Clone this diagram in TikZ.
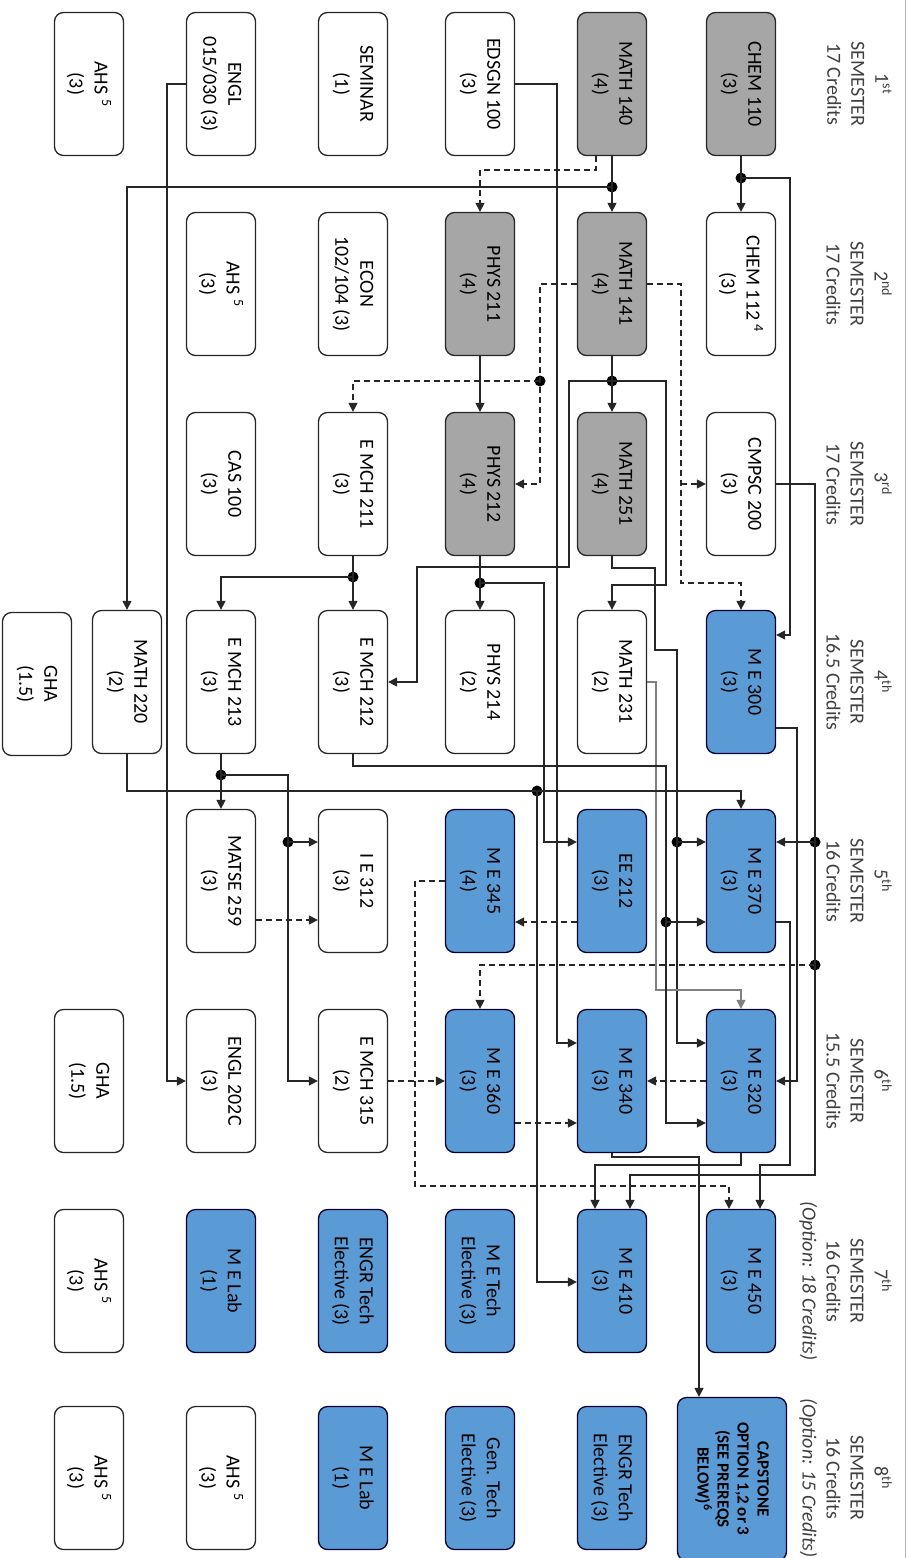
\documentclass[tikz,border=0pt]{standalone}
\usepackage{fontspec}
\setmainfont{Carlito}
\usetikzlibrary{arrows.meta}
\definecolor{mebl}{HTML}{5B9BD5}
\definecolor{crsg}{HTML}{A6A6A6}
\definecolor{hdr}{HTML}{404040}
\begin{document}
\begin{tikzpicture}[x=1pt,y=-1pt,
 crs/.style={draw=black!85, line width=1.3pt, rounded corners=9pt, minimum width=69pt, minimum height=143pt, inner sep=0pt, fill=white},
 gcrs/.style={crs, fill=crsg},
 bcrs/.style={crs, fill=mebl, draw=black!80!blue},
 txt/.style={rotate=-90, align=center, font=\fontsize{20}{25}\selectfont, inner sep=0pt},
 hd/.style={rotate=-90, anchor=north, align=center, text=hdr, font=\fontsize{20}{24}\selectfont, inner sep=0pt},
 ln/.style={draw=black!85, line width=1.4pt},
 arr/.style={ln, -{Triangle[length=9pt,width=9pt]}},
 darr/.style={arr, dash pattern=on 6pt off 4pt},
 dot/.style={circle, fill=black, inner sep=0pt, minimum size=11pt}]
\useasboundingbox (0,0) rectangle (909,1558);
\draw[gray!60, line width=1pt] (905,0) -- (905,1558);
\node[hd] (sem1) at (892,84) {1\textsuperscript{st}\\SEMESTER\\17 Credits};
\node[hd] (sem2) at (892,284) {2\textsuperscript{nd}\\SEMESTER\\17 Credits};
\node[hd] (sem3) at (892,484) {3\textsuperscript{rd}\\SEMESTER\\17 Credits};
\node[hd] (sem4) at (892,682) {4\textsuperscript{th}\\SEMESTER\\16.5 Credits};
\node[hd] (sem5) at (892,881) {5\textsuperscript{th}\\SEMESTER\\16 Credits};
\node[hd] (sem6) at (892,1081) {6\textsuperscript{th}\\SEMESTER\\15.5 Credits};
\node[hd] (sem7) at (892,1281) {7\textsuperscript{th}\\SEMESTER\\16 Credits\\\textit{(Option: 18 Credits)}};
\node[hd] (sem8) at (892,1478) {8\textsuperscript{th}\\SEMESTER\\16 Credits\\\textit{(Option: 15 Credits)}};
\node[gcrs, label={[txt]center:{CHEM 110\\(3)}}] (chem110) at (741,84) {};
\node[gcrs, label={[txt]center:{MATH 140\\(4)}}] (math140) at (612,84) {};
\node[crs, label={[txt]center:{EDSGN 100\\(3)}}] (edsgn100) at (480,84) {};
\node[crs, label={[txt]center:{SEMINAR\\(1)}}] (seminar) at (353,84) {};
\node[crs, label={[txt]center:{ENGL\\015/030 (3)}}] (engl015) at (221,84) {};
\node[crs, label={[txt]center:{AHS \textsuperscript{5}\\(3)}}] (ahs1) at (89,84) {};
\node[crs, label={[txt]center:{CHEM 112 \textsuperscript{4}\\(3)}}] (chem112) at (741,284) {};
\node[gcrs, label={[txt]center:{MATH 141\\(4)}}] (math141) at (612,284) {};
\node[gcrs, label={[txt]center:{PHYS 211\\(4)}}] (phys211) at (480,284) {};
\node[crs, label={[txt]center:{ECON\\102/104 (3)}}] (econ) at (353,284) {};
\node[crs, label={[txt]center:{AHS \textsuperscript{5}\\(3)}}] (ahs2) at (221,284) {};
\node[crs, label={[txt]center:{CMPSC 200\\(3)}}] (cmpsc200) at (741,484) {};
\node[gcrs, label={[txt]center:{MATH 251\\(4)}}] (math251) at (612,484) {};
\node[gcrs, label={[txt]center:{PHYS 212\\(4)}}] (phys212) at (480,484) {};
\node[crs, label={[txt]center:{E MCH 211\\(3)}}] (emch211) at (353,484) {};
\node[crs, label={[txt]center:{CAS 100\\(3)}}] (cas100) at (221,484) {};
\node[bcrs, label={[txt]center:{M E 300\\(3)}}] (me300) at (741,682) {};
\node[crs, label={[txt]center:{MATH 231\\(2)}}] (math231) at (612,682) {};
\node[crs, label={[txt]center:{PHYS 214\\(2)}}] (phys214) at (480,682) {};
\node[crs, label={[txt]center:{E MCH 212\\(3)}}] (emch212) at (353,682) {};
\node[crs, label={[txt]center:{E MCH 213\\(3)}}] (emch213) at (221,682) {};
\node[crs, label={[txt]center:{MATH 220\\(2)}}] (math220) at (127,682) {};
\node[crs, label={[txt]center:{GHA\\(1.5)}}] (gha1) at (37,684) {};
\node[bcrs, label={[txt]center:{M E 370\\(3)}}] (me370) at (741,881) {};
\node[bcrs, label={[txt]center:{EE 212\\(3)}}] (ee212) at (612,881) {};
\node[bcrs, label={[txt]center:{M E 345\\(4)}}] (me345) at (480,881) {};
\node[crs, label={[txt]center:{I E 312\\(3)}}] (ie312) at (353,881) {};
\node[crs, label={[txt]center:{MATSE 259\\(3)}}] (matse259) at (221,881) {};
\node[bcrs, label={[txt]center:{M E 320\\(3)}}] (me320) at (741,1081) {};
\node[bcrs, label={[txt]center:{M E 340\\(3)}}] (me340) at (612,1081) {};
\node[bcrs, label={[txt]center:{M E 360\\(3)}}] (me360) at (480,1081) {};
\node[crs, label={[txt]center:{E MCH 315\\(2)}}] (emch315) at (353,1081) {};
\node[crs, label={[txt]center:{ENGL 202C\\(3)}}] (engl202c) at (221,1081) {};
\node[crs, label={[txt]center:{GHA\\(1.5)}}] (gha2) at (89,1081) {};
\node[bcrs, label={[txt]center:{M E 450\\(3)}}] (me450) at (741,1281) {};
\node[bcrs, label={[txt]center:{M E 410\\(3)}}] (me410) at (612,1281) {};
\node[bcrs, label={[txt]center:{M E Tech\\Elective (3)}}] (metech) at (480,1281) {};
\node[bcrs, label={[txt]center:{ENGR Tech\\Elective (3)}}] (engrtech1) at (353,1281) {};
\node[bcrs, label={[txt]center:{M E Lab\\(1)}}] (melab1) at (221,1281) {};
\node[crs, label={[txt]center:{AHS \textsuperscript{5}\\(3)}}] (ahs3) at (89,1281) {};
\node[bcrs, minimum width=109pt, minimum height=163pt, label={[txt, font=\bfseries\fontsize{17}{20}\selectfont]center:{CAPSTONE\\OPTION 1,2 or 3\\(SEE PREREQS\\BELOW)\textsuperscript{6}}}] (capstone) at (732,1479) {};
\node[bcrs, label={[txt]center:{ENGR Tech\\Elective (3)}}] (engrtech2) at (612,1478) {};
\node[bcrs, label={[txt]center:{Gen. Tech\\Elective (3)}}] (gentech) at (480,1478) {};
\node[bcrs, label={[txt]center:{M E Lab\\(1)}}] (melab2) at (353,1478) {};
\node[crs, label={[txt]center:{AHS \textsuperscript{5}\\(3)}}] (ahs4) at (221,1478) {};
\node[crs, label={[txt]center:{AHS \textsuperscript{5}\\(3)}}] (ahs5) at (89,1478) {};
\node[dot] (j1) at (741,178) {};
\node[dot] (j2) at (612,187) {};
\node[dot] (j3) at (612,381) {};
\node[dot] (j4) at (540,381) {};
\node[dot] (j5) at (480,583) {};
\node[dot] (j6) at (677,842) {};
\node[dot] (j7) at (353,577) {};
\node[dot] (j8) at (666,922) {};
\node[dot] (j9) at (221,775) {};
\node[dot] (j10) at (288,842) {};
\node[dot] (j11) at (537,791) {};
\node[dot] (j12) at (815,842) {};
\node[dot] (j13) at (815,965) {};
\draw[arr] (chem110) -- (chem112);
\draw[arr] (j1.center) -- (790,178) -- (790,635) -- (me300.east |- 0,635);
\draw[arr] (math140) -- (math141);
\draw[arr] (j2.center) -| (math220.north);
\draw[darr] (math140.south -| 596,0) -- (596,170) -| (phys211.north);
\draw[arr] (edsgn100.east) -| (557,1043) -- (me340.west |- 0,1043);
\draw[arr] (engl015.west) -| (167,1081) -- (engl202c.west);
\draw[arr] (math141) -- (math251);
\draw[arr] (j3.center) -| (569,567) -| (417,682) -- (emch212.east);
\draw[arr] (j3.center) -| (666,585) -| (math231.north);
\draw[darr] (math141.west) -| (540,484) -- (phys212.east);
\draw[darr] (j4.center) -| (emch211.north);
\draw[darr] (math141.east) -| (681,583) -| (me300.north);
\draw[darr] (681,484) -- (cmpsc200.west);
\draw[arr] (phys211) -- (phys212);
\draw[arr] (phys212) -- (phys214);
\draw[arr] (j5.center) -| (544,842) -- (ee212.west |- 0,842);
\draw[arr] (math251.south) |- (655,568) |- (677,650) -- (677,1043) -- (me320.west |- 0,1043);
\draw[arr] (j6.center) -- (me370.west |- 0,842);
\draw[arr, draw=gray] (math231.east) -| (656,990) -| (me320.north);
\draw[arr] (emch211) -- (emch212);
\draw[arr] (j7.center) -| (emch213.north);
\draw[arr] (emch212.south) |- (666,766) -- (666,1123) -- (me320.west |- 0,1123);
\draw[arr] (j8.center) -- (me370.west |- 0,922);
\draw[arr] (emch213) -- (matse259);
\draw[arr] (j9.center) -| (288,1081) -- (emch315.west);
\draw[arr] (j10.center) -- (ie312.west |- 0,842);
\draw[darr] (matse259.east |- 0,920) -- (ie312.west |- 0,920);
\draw[arr] (math220.south) |- (741,791) -- (me370.north);
\draw[arr] (j11.center) -- (537,1282) -- (me410.west |- 0,1282);
\draw[arr] (cmpsc200.east) -| (815,1175) -| (me410.north -| 630,0);
\draw[arr] (j12.center) -- (me370.east |- 0,842);
\draw[darr] (j13.center) -| (me360.north);
\draw[arr] (me300.east |- 0,728) -| (797,1081) -- (me320.east);
\draw[arr] (me370.east |- 0,922) -| (790,1165) -| (me450.north -| 760,0);
\draw[darr] (me345.west) -| (415,1186) -| (me450.north -| 729,0);
\draw[darr] (ee212.west |- 0,922) -- (me345.east |- 0,922);
\draw[darr] (emch315.east) -- (me360.west);
\draw[darr] (me360.east |- 0,1123) -- (me340.west |- 0,1123);
\draw[darr] (me320.west) -- (me340.east);
\draw[arr] (me340.south) |- (699,1157) -- (capstone.north -| 699,0);
\draw[arr] (me320.south) |- (595,1165) -- (me410.north -| 595,0);
\end{tikzpicture}
\end{document}
